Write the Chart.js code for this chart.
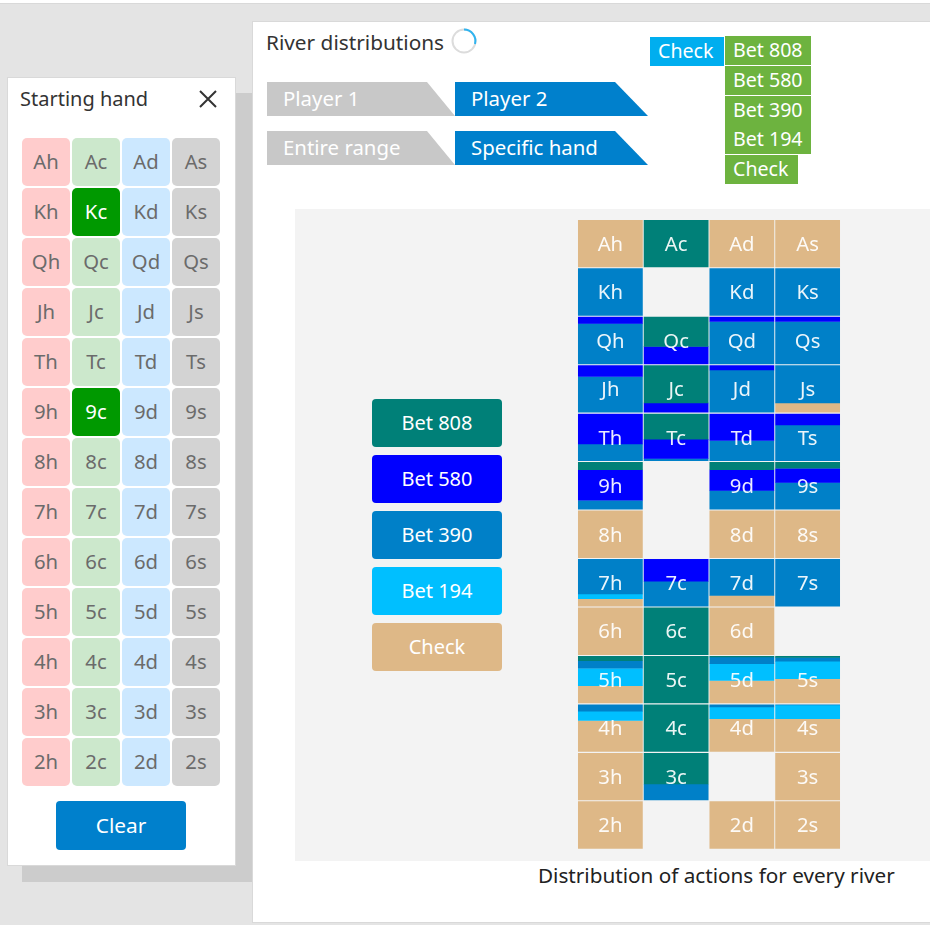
<!DOCTYPE html>
<html><head><meta charset="utf-8">
<script src="https://cdn.jsdelivr.net/npm/chart.js@4/dist/chart.umd.min.js"></script>
<style>
html,body{margin:0;padding:0;width:930px;height:925px;overflow:hidden;background:#e4e4e4;font-family:"Noto Sans",sans-serif}
.a{position:absolute;box-sizing:border-box}
.ctr{display:flex;align-items:center;justify-content:center}
#topline{left:0;top:0;width:930px;height:4px;background:#fff;border-bottom:1px solid #d9d9d9}
#shadow{left:22px;top:93px;width:231px;height:789px;background:#cccccc}
#main{left:252px;top:21px;width:678px;height:902px;background:#fff;border:1px solid #d9d9d9;border-right:0}
#card{left:7px;top:77px;width:229px;height:789px;background:#fff;border:1px solid #d9d9d9}
#plot{left:295px;top:209px;width:635px;height:652px;background:#f3f3f3}
.cell{width:48px;height:48px;border-radius:5px;font-size:20.3px;color:#6b6b6b;padding-bottom:3px}
.btn{border-radius:4px;color:#fff;font-size:20px;padding-bottom:2px}
.tab{height:34px;color:#fff;font-size:20.4px;display:flex;align-items:center;padding-left:16px;padding-bottom:2px}
.tag{color:#fff;font-size:19.6px;height:29px;background:#6db33f;padding-left:8px;padding-bottom:2px;display:flex;align-items:center}
#chartbox{left:295px;top:209px;width:635px;height:652px}
</style></head><body>
<div class="a" id="topline"></div>
<div class="a" id="shadow"></div>
<div class="a" id="main"></div>
<div class="a" id="card"></div>
<div class="a" style="left:20px;top:85px;font-size:20px;line-height:28px;color:#333">Starting hand</div>
<svg class="a" style="left:198px;top:89px" width="20" height="20"><path d="M2 2L18 18M18 2L2 18" stroke="#333" stroke-width="2" fill="none"/></svg>
<div class="a" id="hand"></div>
<div class="a btn ctr" style="left:56px;top:801px;width:130px;height:49px;background:#0080cc;font-size:20.8px">Clear</div>

<div class="a" style="left:266px;top:28px;font-size:20.8px;line-height:28px;color:#333">River distributions</div>
<svg class="a" style="left:450px;top:27px" width="28" height="28"><circle cx="14" cy="14" r="11.5" fill="none" stroke="#dcdcdc" stroke-width="2"/><path d="M14 2.5A11.5 11.5 0 0 1 25 17" fill="none" stroke="#2fb4f0" stroke-width="2"/></svg>
<div class="a tab" style="left:267px;top:82px;width:188px;background:#c8c8c8;clip-path:polygon(0 0,160px 0,100% 100%,0 100%)">Player 1</div>
<div class="a tab" style="left:455px;top:82px;width:193px;background:#0080cc;clip-path:polygon(0 0,160px 0,100% 100%,0 100%)">Player 2</div>
<div class="a tab" style="left:267px;top:131px;width:188px;background:#c8c8c8;clip-path:polygon(0 0,160px 0,100% 100%,0 100%)">Entire range</div>
<div class="a tab" style="left:455px;top:131px;width:193px;background:#0080cc;clip-path:polygon(0 0,160px 0,100% 100%,0 100%)">Specific hand</div>
<div class="a tag" style="left:650px;top:37px;width:74px;background:#00aeef">Check</div>
<div class="a tag" style="left:725px;top:36px;width:86px">Bet 808</div>
<div class="a tag" style="left:725px;top:66px;width:86px">Bet 580</div>
<div class="a tag" style="left:725px;top:96px;width:86px">Bet 390</div>
<div class="a tag" style="left:725px;top:125px;width:86px">Bet 194</div>
<div class="a tag" style="left:725px;top:155px;width:73px">Check</div>

<div class="a" id="plot"></div>
<div class="a" id="legend"></div>
<div class="a" id="chartbox"><canvas id="c" width="635" height="652"></canvas></div>
<div class="a" style="left:538px;top:861px;font-size:20.7px;line-height:28px;color:#222;white-space:nowrap">Distribution of actions for every river</div>

<script>
const ranks = ['A','K','Q','J','T','9','8','7','6','5','4','3','2'];
const suits = ['h','c','d','s'];
const actions = ['Bet 808','Bet 580','Bet 390','Bet 194','Check'];
const actionColors = ['#008078','#0000ff','#0080c8','#00bfff','#deb887'];
const selectedHand = ['Kc','9c'];
const suitTints = ['#ffcccc','#cce8cc','#cce8ff','#d3d3d3'];

// Share of each action (percent), one row per rank, columns h c d s. All zero = card not dealt.
const bet808 = [
 [0,100,0,0],[0,0,0,0],[0,63,0,0],[0,80,0,0],[0,54,0,0],[16,0,16,13],[0,0,0,0],
 [0,0,0,0],[0,100,0,0],[10,100,2,3],[0,100,0,0],[0,66,0,0],[0,0,0,0]];
const bet580 = [
 [0,0,0,0],[0,0,0,0],[14,37,10,10],[24,20,10,0],[64,41,57,24],[65,0,44,30],[0,0,0,0],
 [0,47,0,0],[0,0,0,0],[0,0,0,0],[0,0,0,0],[0,0,0,0],[0,0,0,0]];
const bet390 = [
 [0,0,0,0],[100,0,100,100],[86,0,90,90],[76,0,90,80],[36,5,43,76],[19,0,40,57],[0,0,0,0],
 [74,53,77,100],[0,0,0,0],[16,0,14,8],[14,0,5,1],[0,34,0,0],[0,0,0,0]];
const bet194 = [
 [0,0,0,0],[0,0,0,0],[0,0,0,0],[0,0,0,0],[0,0,0,0],[0,0,0,0],[0,0,0,0],
 [10,0,0,0],[0,0,0,0],[37,0,36,37],[20,0,25,29],[0,0,0,0],[0,0,0,0]];
const check = [
 [100,0,100,100],[0,0,0,0],[0,0,0,0],[0,0,0,20],[0,0,0,0],[0,0,0,0],[100,0,100,100],
 [16,0,23,0],[100,0,100,0],[37,0,48,52],[66,0,70,70],[100,0,0,100],[100,0,100,100]];
const actionShares = [bet808,bet580,bet390,bet194,check];

// Left card: the starting-hand picker
const hand = document.getElementById('hand');
ranks.forEach((r,ri)=>suits.forEach((s,si)=>{
  const d=document.createElement('div');
  d.className='a cell ctr'; d.textContent=r+s;
  d.style.left=(22+si*50)+'px'; d.style.top=(138+ri*50)+'px';
  const sel=selectedHand.includes(r+s);
  d.style.background=sel?'#009900':suitTints[si];
  if(sel) d.style.color='#fff';
  hand.appendChild(d);
}));

// Legend buttons
const legend = document.getElementById('legend');
actions.forEach((a,i)=>{
  const d=document.createElement('div');
  d.className='a btn ctr'; d.textContent=a;
  d.style.cssText+=`left:372px;top:${399+i*56}px;width:130px;height:48px;background:${actionColors[i]}`;
  legend.appendChild(d);
});

// Stacked cell segments, top to bottom, as floating bars on a rank-unit y scale
const cellFill = 0.97;
const running = ranks.map(()=>suits.map(()=>0));
const datasets = actions.map((a,ai)=>{
  const data=[];
  ranks.forEach((r,ri)=>suits.forEach((s,si)=>{
    const v=actionShares[ai][ri][si];
    if(!v) return;
    const from=running[ri][si];
    running[ri][si]+=v;
    data.push({x:s,y:[ri+from/100*cellFill,ri+running[ri][si]/100*cellFill]});
  }));
  return {label:a,data,backgroundColor:actionColors[ai],barThickness:64.4,grouped:false,inflateAmount:0.2};
});

const cellLabels = {
  id:'cellLabels',
  afterDatasetsDraw(chart){
    const {ctx,scales:{x,y}}=chart;
    ctx.save();
    ctx.font='20.3px "Noto Sans"';
    ctx.fillStyle='rgba(255,255,255,0.92)';
    ctx.textAlign='center';ctx.textBaseline='middle';
    ranks.forEach((r,ri)=>suits.forEach((s,si)=>{
      if(!running[ri][si]) return;
      ctx.fillText(r+s,x.getPixelForValue(si),y.getPixelForValue(ri+cellFill/2)+1.5);
    }));
    ctx.restore();
  }
};

new Chart(document.getElementById('c'),{
  type:'bar',
  data:{labels:suits,datasets},
  plugins:[cellLabels],
  options:{
    responsive:false,animation:false,devicePixelRatio:1,
    layout:{padding:{left:282.5,right:89.5,top:11,bottom:11}},
    plugins:{legend:{display:false},tooltip:{enabled:false},title:{display:false}},
    scales:{
      x:{type:'category',offset:true,display:false,grid:{display:false}},
      y:{type:'linear',min:0,max:13,reverse:true,display:false,grid:{display:false}}
    }
  }
});
</script>
</body></html>
